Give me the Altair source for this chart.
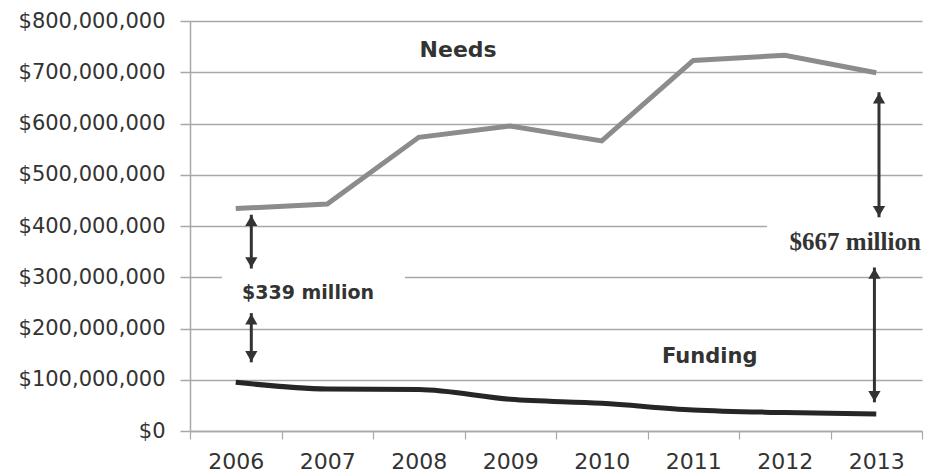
import altair as alt
import pandas as pd

years = ["2006", "2007", "2008", "2009", "2010", "2011", "2012", "2013"]
needs = [434e6, 443e6, 573e6, 595e6, 566e6, 723e6, 733e6, 699e6]
funding = [95e6, 82e6, 81e6, 62e6, 54e6, 41e6, 36e6, 33e6]
y_ticks = [0, 100e6, 200e6, 300e6, 400e6, 500e6, 600e6, 700e6, 800e6]

# annotation arrows: (year, start value, end value, position within band)
arrow_year = ["2006", "2006", "2013", "2013"]
arrow_top = [422e6, 230e6, 661e6, 319e6]
arrow_bot = [317e6, 134e6, 417e6, 56e6]
arrow_band = [0.67, 0.67, 0.53, 0.48]

FONT = "DejaVu Sans"
TXT = "#333333"
GRID = "#a8a8a8"

lines_df = pd.DataFrame({
    "year": years * 2,
    "value": needs + funding,
    "series": ["Needs"] * len(years) + ["Funding"] * len(years),
})

xscale = alt.Scale(type="band", domain=years, paddingInner=0, paddingOuter=0)
yscale = alt.Scale(domain=[0, 800e6], nice=False)

base_x_axis = alt.Axis(
    title=None, labelFont=FONT, labelFontSize=22, labelColor=TXT,
    tickBand="extent", tickSize=8, tickColor=GRID, tickWidth=1.2,
    domain=True, domainColor=GRID, domainWidth=1.5, grid=False,
    labelPadding=12, labelAngle=0,
)
base_y_axis = alt.Axis(
    title=None, values=y_ticks, format="$,.0f", labelFont=FONT, labelFontSize=21,
    labelColor=TXT, tickSize=10, tickColor=GRID, tickWidth=1.5,
    domain=True, domainColor=GRID, domainWidth=1.5,
    grid=True, gridColor=GRID, gridWidth=1.5, labelPadding=15,
)

needs_line = alt.Chart(lines_df).transform_filter(
    alt.datum.series == "Needs"
).mark_line(color="#8c8c8c", strokeWidth=5).encode(
    x=alt.X("year:O", scale=xscale, axis=base_x_axis, bandPosition=0.5, sort=years),
    y=alt.Y("value:Q", scale=yscale, axis=base_y_axis),
)

funding_line = alt.Chart(lines_df).transform_filter(
    alt.datum.series == "Funding"
).mark_line(color="#262626", strokeWidth=5, interpolate="monotone").encode(
    x=alt.X("year:O", scale=xscale, bandPosition=0.5, sort=years),
    y=alt.Y("value:Q", scale=yscale),
)

# white text-box backgrounds that hide parts of gridlines (as in the original)
mask_339 = alt.Chart(pd.DataFrame({"k": [0]})).mark_rect(color="white").encode(
    x=alt.value(32), x2=alt.value(215), y=alt.value(248), y2=alt.value(265)
)
mask_667 = alt.Chart(pd.DataFrame({"k": [0]})).mark_rect(color="white").encode(
    x=alt.value(577), x2=alt.value(734), y=alt.value(201), y2=alt.value(213)
)

layers = [mask_339, mask_667, needs_line, funding_line]

for yr, top, bot, bp in zip(arrow_year, arrow_top, arrow_bot, arrow_band):
    d = pd.DataFrame({"year": [yr], "top": [top], "bot": [bot]})
    xenc = alt.X("year:O", scale=xscale, bandPosition=bp, sort=years)
    layers.append(alt.Chart(d).mark_rule(color="#333333", strokeWidth=3).encode(
        x=xenc, y=alt.Y("top:Q", scale=yscale), y2="bot:Q"))
    layers.append(alt.Chart(d).mark_point(shape="triangle-up", filled=True, size=150,
                                          color="#333333", opacity=1, yOffset=6).encode(
        x=xenc, y=alt.Y("top:Q", scale=yscale)))
    layers.append(alt.Chart(d).mark_point(shape="triangle-down", filled=True, size=150,
                                          color="#333333", opacity=1, yOffset=-6).encode(
        x=xenc, y=alt.Y("bot:Q", scale=yscale)))

# text labels: (text, year, value, band position, font, size)
texts = [
    ("Needs", "2008", 743e6, 0.93, FONT, 22),
    ("Funding", "2011", 145e6, 0.68, FONT, 21),
    ("$339 million", "2007", 269e6, 0.29, FONT, 19),
    ("$667 million", "2013", 368e6, 0.27, "Liberation Serif", 25),
]
for t, yr, v, bp, f, s in texts:
    d = pd.DataFrame({"year": [yr], "value": [v], "label": [t]})
    layers.append(alt.Chart(d).mark_text(
        font=f, fontSize=s, fontWeight="bold", color=TXT, align="center", baseline="middle"
    ).encode(
        x=alt.X("year:O", scale=xscale, bandPosition=bp, sort=years),
        y=alt.Y("value:Q", scale=yscale),
        text="label:N",
    ))

chart = alt.layer(*layers).properties(
    width=732, height=410,
    autosize=alt.AutoSizeParams(type="none"),
    padding={"left": 190, "top": 21, "right": 14, "bottom": 44},
    background="white",
).configure_view(stroke=None)

chart.save("out.html", embed_options={"renderer": "svg", "actions": False})
